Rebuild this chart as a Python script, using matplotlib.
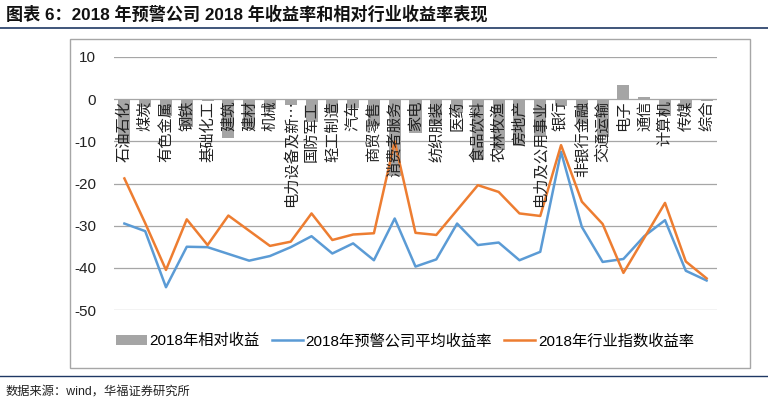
import matplotlib
matplotlib.use("Agg")
import matplotlib.pyplot as plt
from matplotlib.patches import Rectangle, Patch
from matplotlib.lines import Line2D
import numpy as np

plt.rcParams['font.family'] = ['Liberation Sans', 'Noto Sans CJK SC', 'DejaVu Sans']

categories = ["石油石化", "煤炭", "有色金属", "钢铁", "基础化工", "建筑", "建材", "机械",
              "电力设备及新…", "国防军工", "轻工制造", "汽车", "商贸零售", "消费者服务", "家电",
              "纺织服装", "医药", "食品饮料", "农林牧渔", "房地产", "电力及公用事业", "银行",
              "非银行金融", "交通运输", "电子", "通信", "计算机", "传媒", "综合"]

company_return = [-29.5, -31.3, -44.6, -35.0, -35.1, -36.7, -38.3, -37.2, -35.1, -32.5,
                  -36.6, -34.2, -38.2, -28.3, -39.7, -38.0, -29.5, -34.6, -34.0, -38.2,
                  -36.2, -12.5, -30.3, -38.6, -37.9, -32.5, -28.7, -40.7, -43.0]

industry_return = [-18.8, -29.4, -40.5, -28.5, -34.6, -27.6, -31.2, -34.8, -33.8, -27.1,
                   -33.4, -32.1, -31.8, -10.0, -31.7, -32.2, -26.3, -20.4, -22.0, -27.1,
                   -27.7, -10.9, -24.3, -29.6, -41.2, -32.9, -24.6, -38.5, -42.5]

relative_return = [-10.7, -1.9, -4.1, -6.5, -0.5, -9.1, -7.1, -2.4, -1.3, -5.4,
                   -3.2, -2.1, -6.4, -18.3, -8.0, -5.8, -3.2, -14.2, -12.0, -11.1,
                   -8.5, -1.6, -6.0, -9.0, 3.3, 0.4, -4.1, -2.2, -0.5]

yticks = [10, 0, -10, -20, -30, -40, -50]

title = "图表 6：2018 年预警公司 2018 年收益率和相对行业收益率表现"
source = "数据来源：wind，华福证券研究所"
legend_labels = ["2018年相对收益", "2018年预警公司平均收益率", "2018年行业指数收益率"]

W, H = 768, 403
fig = plt.figure(figsize=(W / 100, H / 100), dpi=100)

def fx(px):
    return px / W

def fy(py):
    return 1 - py / H

# chart frame
fig.patches.append(Rectangle((fx(70), fy(368)), fx(750) - fx(70), fy(39) - fy(368),
                             transform=fig.transFigure, fill=False,
                             edgecolor="#A6A6A6", lw=1.0))
# title + rules
fig.text(fx(6), fy(14), title, fontsize=12.3, fontweight="bold",
         ha="left", va="center", color="#111111")
fig.add_artist(Line2D([0, 1], [fy(28), fy(28)], transform=fig.transFigure,
                      color="#1F3864", lw=1.2))
fig.add_artist(Line2D([0, 1], [fy(376), fy(376)], transform=fig.transFigure,
                      color="#1F3864", lw=1.0))
fig.text(fx(6), fy(392), source, fontsize=8.8, ha="left", va="center", color="#222222")

ax = fig.add_axes([fx(114), fy(310), fx(717) - fx(114), fy(57) - fy(310)])
x = np.arange(len(categories))
ax.set_ylim(-50, 10)
ax.set_xlim(-0.5, len(categories) - 0.5)
ax.set_yticks(yticks)
ax.set_yticklabels([str(v) for v in yticks])
ax.grid(axis="y", color="#A6A6A6", lw=0.9)
ax.set_axisbelow(True)
for s in ax.spines.values():
    s.set_visible(False)
ax.tick_params(axis="y", length=0, pad=13, labelsize=11, colors="#222222")
ax.set_xticks([])

ax.bar(x, relative_return, width=0.58, color="#A5A5A5", zorder=2)
ax.plot(x, company_return, color="#5B9BD5", lw=1.8, zorder=3)
ax.plot(x, industry_return, color="#ED7D31", lw=1.8, zorder=3)

for i, lab in enumerate(categories):
    ax.text(i, -0.35, lab, rotation=90, ha="center", va="top", fontsize=11,
            family=["Noto Sans CJK SC", "DejaVu Sans"], color="#222222", zorder=4)

handles = [Patch(facecolor="#A5A5A5", edgecolor="none"),
           Line2D([], [], color="#5B9BD5", lw=1.8),
           Line2D([], [], color="#ED7D31", lw=1.8)]
fig.legend(handles, legend_labels, loc="center", bbox_to_anchor=(fx(405), fy(341)),
           ncol=3, frameon=False, fontsize=11, handlelength=2.0, handletextpad=0.2,
           columnspacing=0.8)

fig.savefig("out.png", dpi=100)
